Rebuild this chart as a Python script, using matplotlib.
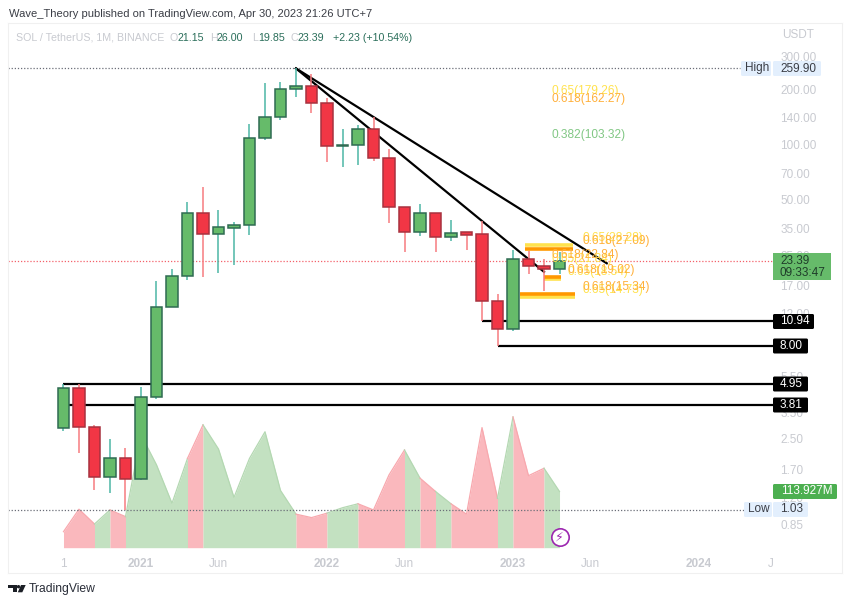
import matplotlib
matplotlib.use('Agg')
import matplotlib.pyplot as plt
from matplotlib.patches import Rectangle, Polygon, Circle, FancyBboxPatch

plt.rcParams['font.family'] = ['Liberation Sans', 'DejaVu Sans']

# monthly candles, Aug 2020 .. Apr 2023
opens = [2.86, 4.73, 2.89, 1.55, 1.96, 1.51, 4.25, 13.06, 19.3, 42.6, 32.8, 35.3, 36.5, 108, 141, 201.7,
         207.8, 169, 98.7, 99.9, 122, 84.3, 45.6, 33.6, 42.3, 31.6, 33.3, 32.5, 14.1, 9.96, 23.8, 21.8, 21.15]
closes = [4.73, 2.89, 1.55, 1.96, 1.51, 4.25, 13.06, 19.3, 42.6, 32.5, 35.5, 36.5, 108, 141, 201.7, 207.8,
          169, 98.7, 100, 122, 84.3, 45.6, 33.6, 42.3, 31.6, 33.1, 32.3, 14.1, 9.96, 23.8, 21.8, 21.0, 23.39]
highs = [4.95, 4.95, 2.98, 2.5, 2.23, 4.81, 18.2, 21, 48.5, 58.6, 44, 38, 129.5, 216, 218, 259.9,
         242, 178.8, 121, 128.4, 142, 94.6, 46, 47.5, 42.5, 38.9, 33.5, 38.6, 15.3, 26.7, 26.5, 23.8, 26.0]
lows = [2.76, 2.1, 1.32, 1.27, 1.03, 1.5, 4.12, 13, 18.3, 19.1, 20.1, 22.1, 32.2, 106, 137, 181,
        148, 80.8, 75.9, 77.5, 81.8, 37.3, 26, 31.8, 26, 30, 26.7, 10.94, 8.0, 9.7, 19.8, 16, 19.85]
volumes = [32.5, 78, 48, 76.5, 63, 229, 168, 90, 181, 249, 200, 102, 181, 235, 116, 68,
           61, 70, 81, 89, 76.5, 147.5, 198, 141, 114, 89, 68, 243.5, 100, 265, 146, 161, 113.927]

price_ticks = [300, 200, 140, 100, 70, 50, 35, 25, 17, 12, 5.5, 3.5, 2.5, 1.7, 1.2, 0.85]
time_ticks = [0, 5, 10, 17, 22, 29, 34, 41, 45.65]
time_labels = ['1', '2021', 'Jun', '2022', 'Jun', '2023', 'Jun', '2024', 'J']

high_price = 259.9
low_price = 1.03
last_price = 23.39

# (start month, end month, price)
trendlines = [(15, 35.05, 259.9, 22.6), (15, 31.0, 259.9, 20.3)]
levels = [(27, 10.94), (28, 8.0), (0, 4.95), (0, 3.81)]
# (label, price, month of label, colour)
fib_labels = [('0.65(179.26)', 179.26, 31.5, '#ffe24d'), ('0.618(162.27)', 162.27, 31.5, '#ffb03b'),
              ('0.382(103.32)', 103.32, 31.5, '#81c784'),
              ('0.65(28.28)', 28.28, 33.5, '#ffe24d'), ('0.618(27.09)', 27.09, 33.5, '#ffb03b'),
              ('0.65(21.84)', 21.84, 31.5, '#ffe24d'), ('0.618(22.84)', 22.84, 31.5, '#ffb03b'),
              ('0.65(18.54)', 18.54, 32.5, '#ffe24d'), ('0.618(19.02)', 19.02, 32.5, '#ffb03b'),
              ('0.65(14.73)', 14.73, 33.5, '#ffe24d'), ('0.618(15.34)', 15.34, 33.5, '#ffb03b')]
# (from month, to month, price, colour)
fib_lines = [(29.75, 32.9, 28.28, '#ffe24d'), (29.75, 32.9, 27.09, '#ff9800'),
             (31, 32.1, 18.54, '#ffe24d'), (31, 32.1, 19.02, '#ff9800'),
             (29.45, 33, 14.73, '#ffe24d'), (29.45, 33, 15.34, '#ff9800')]

UP, UP_EDGE, UP_WICK = '#66bb6a', '#2f6b52', '#4db6a5'
DOWN, DOWN_EDGE, DOWN_WICK = '#f23645', '#a8323f', '#f77c80'
TICK = '#c8cad0'

fig = plt.figure(figsize=(8.5, 6.04), dpi=100)
ax = fig.add_axes([8.3 / 850, 31 / 604, 833.4 / 850, 549.7 / 604])
vax = ax.twinx()
ax.set_zorder(2)
vax.set_zorder(1)
ax.patch.set_visible(False)

# volume area, coloured by the candle each segment runs into
vax.set_ylim(-51.3, 1063)
vax.axis('off')
start = 0
for i in range(1, len(volumes) + 1):
    up = closes[min(i, len(volumes) - 1)] >= opens[min(i, len(volumes) - 1)]
    if i == len(volumes) or up != (closes[start + 1] >= opens[start + 1]):
        xs = list(range(start, i))
        vs = volumes[start:i]
        was_up = closes[start + 1] >= opens[start + 1]
        vax.fill_between(xs, vs, 0, color='#c3e1c1' if was_up else '#fab8bd', lw=0)
        vax.plot(xs, vs, color='#b4d8b2' if was_up else '#f8a8ae', lw=0.9)
        start = i - 1

ax.set_yscale('log')
ax.set_xlim(-3.561, 50.206)
ax.set_ylim(0.4656, 457.6)

# helper lines, candles sit on top of these
ax.hlines(high_price, -3.56, 43.64, color='#6b6e78', lw=0.9, linestyle=(0, (1, 1.5)), zorder=1)
ax.hlines(low_price, -3.56, 43.9, color='#6b6e78', lw=0.9, linestyle=(0, (1, 1.5)), zorder=1)
ax.hlines(last_price, -3.56, 45.77, color='#f4606a', lw=0.9, linestyle=(0, (1, 1.5)), zorder=1)
for s, p in levels:
    ax.hlines(p, s, 45.77, color='black', lw=1.6, zorder=2)
for x0, x1, p0, p1 in trendlines:
    ax.plot([x0, x1], [p0, p1], color='black', lw=1.6, zorder=2)
for x0, x1, p, c in fib_lines:
    ax.hlines(p, x0, x1, color=c, lw=2.6, zorder=2)

for i in range(len(opens)):
    up = closes[i] >= opens[i]
    ax.vlines(i, lows[i], highs[i], color=UP_WICK if up else DOWN_WICK, lw=1.1, zorder=3)
    ax.bar(i, abs(closes[i] - opens[i]), width=0.74, bottom=min(opens[i], closes[i]),
           color=UP if up else DOWN, edgecolor=UP_EDGE if up else DOWN_EDGE, lw=1.1, zorder=4)

for label, p, x, c in fib_labels:
    ax.annotate(label, (x, p), xytext=(0, 1), textcoords='offset points', color=c,
                fontsize=8.6, ha='left', va='bottom', zorder=5)

ax.plot([32], [0.732], 'o', ms=12.5, mfc='white', mec='#9c27b0', mew=1.2, zorder=5)
ax.text(32, 0.732, '\u26a1', family='DejaVu Sans', color='#9c27b0', fontsize=9, ha='center', va='center', zorder=6)

# price and time scale labels live inside the frame
ax.yaxis.tick_right()
ax.set_yticks(price_ticks)
ax.set_yticklabels(['%.2f' % t for t in price_ticks])
ax.minorticks_off()
ax.tick_params(axis='y', length=0, pad=-44.4, labelcolor=TICK, labelsize=8.5)
for t in ax.get_yticklabels():
    t.set_ha('left')
ax.set_xticks(time_ticks)
ax.set_xticklabels(time_labels)
ax.tick_params(axis='x', length=0, pad=-11, labelcolor=TICK, labelsize=8.5)
for t in ax.get_xticklabels():
    if t.get_text().startswith('20'):
        t.set_fontweight('bold')
for s in ax.spines.values():
    s.set_color('#f0f0f0')

# overlay in picture pixels for the header, footer and scale badges
ov = fig.add_axes([0, 0, 1, 1], zorder=10)
ov.set_xlim(0, 850)
ov.set_ylim(604, 0)
ov.axis('off')


def badge(x0, x1, yc, text, bg, fg, h=15, tx=None):
    ov.add_patch(FancyBboxPatch((x0 + 1, yc - h / 2 + 1), x1 - x0 - 2, h - 2, boxstyle='round,pad=1,rounding_size=1.5',
                                fc=bg, ec='none'))
    ov.text(tx if tx else x0 + 7, yc, text, color=fg, fontsize=8.5, va='center', ha='left')


ov.text(9, 14, 'Wave_Theory published on TradingView.com, Apr 30, 2023 21:26 UTC+7', color='#3a3d45',
        fontsize=8, va='center')
ov.text(16, 38, 'SOL / TetherUS, 1M, BINANCE', color=TICK, fontsize=7.7, va='center')
for x, t, c in [(170, 'O', TICK), (178, '21.15', '#2a6e5a'), (210, 'H', TICK), (217, '26.00', '#2a6e5a'),
                (252, 'L', TICK), (258, '19.85', '#2a6e5a'), (291, 'C', TICK), (298, '23.39', '#2a6e5a'),
                (333, '+2.23 (+10.54%)', '#2a6e5a')]:
    ov.text(x, 38, t, color=c, fontsize=7.7, va='center')
ov.text(782, 35, 'USDT', color=TICK, fontsize=8.5, va='center')

badge(741, 771, 68.5, 'High', '#e3effd', '#3a3d45', tx=745)
badge(773, 821, 68.5, '259.90', '#e3effd', '#3a3d45')
badge(744, 772, 509.5, 'Low', '#e3effd', '#3a3d45', tx=748)
badge(773, 808, 509.5, '1.03', '#e3effd', '#3a3d45')
badge(773, 814, 321.5, '10.94', 'black', 'white')
badge(773, 808, 346, '8.00', 'black', 'white')
badge(773, 808, 384, '4.95', 'black', 'white')
badge(773, 808, 405, '3.81', 'black', 'white')
badge(773, 837, 491.5, '113.927M', '#4caf50', 'white', tx=781)
ov.add_patch(Rectangle((773, 253), 58, 27, fc='#66bb6a', ec='none'))
ov.text(780, 260.5, '23.39', color='#1f3d2a', fontsize=8.5, va='center')
ov.text(780, 273, '09:33:47', color='#1f3d2a', fontsize=8.5, va='center')

# TradingView logo
ov.add_patch(Polygon([(8.3, 585), (16.7, 585), (16.7, 592.3), (12.7, 592.3), (12.7, 588.3), (8.3, 588.3)],
                     fc='#1c1f26', ec='none'))
ov.add_patch(Circle((18.5, 586.7), 1.7, fc='#1c1f26', ec='none'))
ov.add_patch(Polygon([(21, 585), (25.7, 585), (22.3, 592.3), (17.8, 592.3)], fc='#1c1f26', ec='none'))
ov.text(29, 589, 'TradingView', color='#2a2e39', fontsize=8.7, va='center')

fig.savefig('out.png', dpi=100)
